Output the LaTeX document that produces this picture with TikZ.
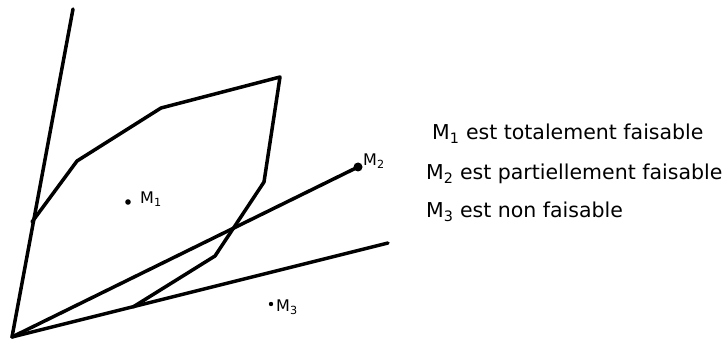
\documentclass[tikz,border=0pt]{standalone}
\usepackage{fontspec}
\setmainfont{DejaVu Sans}

\begin{document}
\begin{tikzpicture}[
  x=1pt, y=-1pt,
  font=\fontsize{20.5}{24}\selectfont,
  edge/.style={line width=3.5pt, line join=round, line cap=round},
  lbl/.style={inner sep=1pt, anchor=west, font=\fontsize{16}{18}\selectfont},
  txt/.style={inner sep=0pt, anchor=base west}
]
\useasboundingbox (0,0) rectangle (728,339);
\coordinate (o) at (12,337);
\coordinate (a) at (73,9);
\coordinate (b) at (388,243);
\coordinate (p1) at (32,222);
\coordinate (p2) at (77,161);
\coordinate (p3) at (161,108);
\coordinate (p4) at (280,77);
\coordinate (p5) at (264,182);
\coordinate (p6) at (215,256);
\coordinate (p7) at (133,307);
\coordinate (m1) at (128,202);
\coordinate (m2) at (358,167);
\coordinate (m3) at (271,304);
\draw[edge] (o) -- (a);
\draw[edge] (o) -- (b);
\draw[edge] (o) -- (m2);
\draw[edge] (p1) -- (p2) -- (p3) -- (p4) -- (p5) -- (p6) -- (p7);
\fill (m1) circle (2.8pt);
\fill (m2) circle (4.5pt);
\fill (m3) circle (2.2pt);
\node[lbl] (m1l) at (139,199) {M\textsubscript{1}};
\node[lbl] (m2l) at (362,161) {M\textsubscript{2}};
\node[lbl] (m3l) at (275,307) {M\textsubscript{3}};
\node[txt] (t1) at (432,140) {M\textsubscript{1} est totalement faisable};
\node[txt] (t2) at (426,180) {M\textsubscript{2} est partiellement faisable};
\node[txt] (t3) at (426,218) {M\textsubscript{3} est non faisable};
\end{tikzpicture}
\end{document}
